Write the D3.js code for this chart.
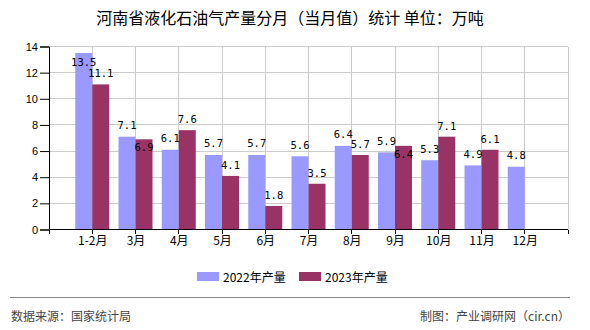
<!DOCTYPE html>
<html>
<head>
<meta charset="utf-8">
<script src="https://cdn.jsdelivr.net/npm/d3@7"></script>
<style>
  html, body { margin: 0; padding: 0; background: #fff; }
  svg { display: block; }
</style>
</head>
<body>
<svg id="chart" width="590" height="330"></svg>
<script>
const categories = ["1-2月", "3月", "4月", "5月", "6月", "7月", "8月", "9月", "10月", "11月", "12月"];
const series2022 = [13.5, 7.1, 6.1, 5.7, 5.7, 5.6, 6.4, 5.9, 5.3, 4.9, 4.8];
const series2023 = [11.1, 6.9, 7.6, 4.1, 1.8, 3.5, 5.7, 6.4, 7.1, 6.1, null];
const seriesNames = ["2022年产量", "2023年产量"];
const yTicks = [0, 2, 4, 6, 8, 10, 12, 14];
const colors = ["#9999FF", "#993366"];
const chartTitle = "河南省液化石油气产量分月（当月值）统计 单位：万吨";
const sourceText = "数据来源：国家统计局";
const creditText = "制图：产业调研网（cir.cn）";

const svg = d3.select("#chart");
const pLeft = 49, pRight = 568, pTop = 46.5, pBottom = 229.5;
const cjk = "'Noto Sans CJK SC', 'Noto Sans', sans-serif";

const x = d3.scalePoint().domain(categories).range([pLeft, pRight]).padding(1);
const y = d3.scaleLinear().domain([0, 14]).range([pBottom, pTop]);
const barW = 17;

// Title
svg.append("text").attr("x", 290).attr("y", 17).attr("text-anchor", "middle")
  .attr("dominant-baseline", "central")
  .style("font-family", cjk).style("font-size", "16px").attr("fill", "#000")
  .attr("xml:space", "preserve").style("white-space", "pre")
  .text(chartTitle);

// horizontal grid
const grid = svg.append("g");
grid.selectAll("line.h").data(yTicks.filter(d => d > 0)).join("line")
  .attr("x1", pLeft).attr("x2", pRight)
  .attr("y1", d => y(d)).attr("y2", d => y(d))
  .attr("stroke", "#cccccc").attr("stroke-width", 1).attr("shape-rendering", "crispEdges");
// vertical grid
grid.append("g").selectAll("line").data(categories.map(c => x(c)).concat([pRight])).join("line")
  .attr("x1", d => d).attr("x2", d => d)
  .attr("y1", pTop).attr("y2", pBottom)
  .attr("stroke", "#cccccc").attr("stroke-width", 1).attr("shape-rendering", "crispEdges");

// bars
const bars = svg.append("g");
bars.append("g").selectAll("rect").data(series2022.map((v, i) => ({c: categories[i], v}))).join("rect")
  .attr("x", d => x(d.c) - barW).attr("width", barW)
  .attr("y", d => y(d.v)).attr("height", d => y(0) - y(d.v))
  .attr("fill", colors[0]);
bars.append("g").selectAll("rect").data(series2023.map((v, i) => ({c: categories[i], v})).filter(d => d.v != null)).join("rect")
  .attr("x", d => x(d.c)).attr("width", barW)
  .attr("y", d => y(d.v)).attr("height", d => y(0) - y(d.v))
  .attr("fill", colors[1]);

// Y axis
const yAxis = d3.axisLeft(y).tickValues(yTicks).tickSize(9).tickPadding(2).tickFormat(d3.format("d"));
const ya = svg.append("g").attr("transform", `translate(${pLeft},0)`).call(yAxis);
ya.select(".domain").attr("stroke", "#000");
ya.selectAll(".tick line").attr("stroke", "#000");
ya.selectAll("text").style("font-family", "'Liberation Sans', Arial, sans-serif").style("font-size", "11px").attr("fill", "#000");

// X axis
const xAxis = d3.axisBottom(x).tickSize(0).tickPadding(7);
const xa = svg.append("g").attr("transform", `translate(0,${pBottom})`).call(xAxis);
xa.select(".domain").remove();
xa.selectAll("text").style("font-family", cjk).style("font-size", "12px").attr("fill", "#000");
svg.append("line").attr("x1", pLeft).attr("x2", pRight).attr("y1", pBottom).attr("y2", pBottom)
  .attr("stroke", "#000").attr("shape-rendering", "crispEdges");
svg.append("g").selectAll("line").data([pLeft].concat(categories.map(c => x(c))).concat([pRight])).join("line")
  .attr("x1", d => d).attr("x2", d => d).attr("y1", pBottom).attr("y2", pBottom + 4)
  .attr("stroke", "#000").attr("shape-rendering", "crispEdges");

// value labels
const labels = svg.append("g").style("font-family", "'DejaVu Sans Mono', 'Liberation Mono', monospace")
  .style("font-size", "10.5px").attr("fill", "#000");
categories.forEach((c, i) => {
  const a = series2022[i], b = series2023[i];
  let ya1 = y(a) - 11.5;
  if (ya1 - 6 < pTop) ya1 = y(a) + 9;
  labels.append("text").attr("x", x(c) - barW / 2).attr("y", ya1)
    .attr("text-anchor", "middle").attr("dominant-baseline", "central").text(d3.format(".1f")(a));
  if (b != null) {
    let yb = y(b) - 11;
    if (Math.abs(yb - ya1) < 8) yb = y(b) + 8;
    labels.append("text").attr("x", x(c) + barW / 2).attr("y", yb)
      .attr("text-anchor", "middle").attr("dominant-baseline", "central").text(d3.format(".1f")(b));
  }
});

// legend
const legend = svg.append("g");
const legendX = [197, 299];
seriesNames.forEach((n, i) => {
  legend.append("rect").attr("x", legendX[i]).attr("y", 272).attr("width", 22).attr("height", 9).attr("fill", colors[i]);
  legend.append("text").attr("x", legendX[i] + 26).attr("y", 276.5).attr("dominant-baseline", "central")
    .style("font-family", cjk).style("font-size", "12px").attr("fill", "#000").text(n);
});

// footer
svg.append("line").attr("x1", 10).attr("x2", 570).attr("y1", 297.5).attr("y2", 297.5)
  .attr("stroke", "#888").attr("stroke-width", 1);
svg.append("text").attr("x", 11).attr("y", 315).attr("dominant-baseline", "central")
  .style("font-family", cjk).style("font-size", "12px").attr("fill", "#444").text(sourceText);
svg.append("text").attr("x", 570).attr("y", 315).attr("dominant-baseline", "central").attr("text-anchor", "end")
  .style("font-family", cjk).style("font-size", "12px").attr("fill", "#444").text(creditText);
</script>
</body>
</html>
